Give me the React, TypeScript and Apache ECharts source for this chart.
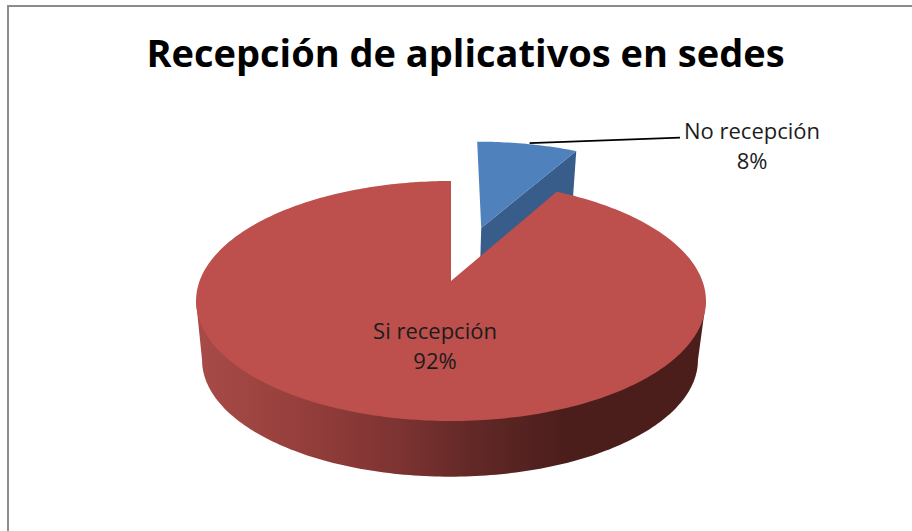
import React, { useEffect, useRef } from "react";
import * as echarts from "echarts";

const titleText = "Recepción de aplicativos en sedes";
const categories = ["No recepción", "Si recepción"];
const values = [8, 92];
const explode = [0.507, 0];
const explodeNudge = [0.004, 0];
const topColors = ["#4f81bd", "#bd4f4c"];
const cutColors = ["#385d8a", "#7a3230"];
const labelColor = "#1c1c1c";

// perspective camera of the pie: unit circle -> screen
const CAM = { a: 116.67, c: -1 / 6, k: 251.4, topX: 451, topY: 281, botX: 450, botY: 340.5, botS: 0.9725 };

function project(theta: number, ox: number, oy: number, r: number, bottom: boolean): number[] {
  const u = Math.sin(theta) * r + ox;
  const v = -Math.cos(theta) * r + oy;
  const d = 1 + CAM.c * v;
  const X = (CAM.k * u) / d;
  const Y = (CAM.a * v) / d;
  return bottom
    ? [CAM.botX + CAM.botS * X, CAM.botY + CAM.botS * Y]
    : [CAM.topX + X, CAM.topY + Y];
}

const total = values.reduce((s, v) => s + v, 0);

function renderItem(params: any, api: any) {
  const i = params.dataIndex;
  const value = api.value(0);
  const before = values.slice(0, i).reduce((s, v) => s + v, 0);
  const start = (before / total) * Math.PI * 2;
  const end = ((before + value) / total) * Math.PI * 2;
  const mid = (start + end) / 2;
  const ox = Math.sin(mid) * explode[i] + explodeNudge[i];
  const oy = -Math.cos(mid) * explode[i];
  const steps = Math.max(6, Math.round(((end - start) / Math.PI) * 180));
  const pts: number[][] = [project(0, ox, oy, 0, false)];
  for (let s = 0; s <= steps; s++) {
    pts.push(project(start + ((end - start) * s) / steps, ox, oy, 1, false));
  }
  const children: any[] = [];
  if (explode[i] > 0) {
    children.push({
      type: "polygon",
      shape: {
        points: [
          project(0, ox, oy, 0, false),
          project(end, ox, oy, 1, false),
          project(end, ox, oy, 1, true),
          project(0, ox, oy, 0, true),
        ],
      },
      style: { fill: cutColors[i] },
    });
  } else {
    const tangent = Math.acos(-1 / 6);
    const a0 = Math.PI * 2 - tangent;
    const rim: number[][] = [project(a0, ox, oy, 1, false)];
    for (let s = 0; s <= 160; s++) {
      rim.push(project(a0 + ((tangent - a0) * s) / 160, ox, oy, 1, true));
    }
    rim.push(project(tangent, ox, oy, 1, false));
    children.push({
      type: "polygon",
      shape: { points: rim },
      style: {
        fill: new echarts.graphic.LinearGradient(0, 0, 1, 0, [
          { offset: 0, color: "#a84b48" },
          { offset: 0.2, color: "#963f3c" },
          { offset: 0.4, color: "#7c3331" },
          { offset: 0.55, color: "#612826" },
          { offset: 0.72, color: "#4b1e1c" },
          { offset: 1, color: "#4b1e1c" },
        ]),
      },
    });
  }
  children.push({ type: "polygon", shape: { points: pts }, style: { fill: topColors[i] } });
  const text = `${categories[i]}\n${Math.round((value / total) * 100)}%`;
  const labelPos = explode[i] > 0 ? [752, 145] : [435, 345];
  children.push({
    type: "text",
    x: labelPos[0],
    y: labelPos[1],
    style: {
      text,
      fill: labelColor,
      font: "22px 'Open Sans'",
      lineHeight: 30,
      align: "center",
      verticalAlign: "middle",
    },
  });
  if (explode[i] > 0) {
    const lp = project(mid, ox, oy, 1, false);
    children.push({
      type: "line",
      shape: { x1: lp[0] + 2, y1: lp[1] - 1, x2: 680, y2: 137.7 },
      style: { stroke: "#000000", lineWidth: 1.8 },
    });
  }
  return { type: "group", children };
}

export default function App() {
  const ref = useRef<HTMLDivElement>(null);
  useEffect(() => {
    document.body.style.margin = "0";
    const chart = echarts.init(ref.current!, undefined, { renderer: "svg" });
    chart.setOption({
      animation: false,
      backgroundColor: "#ffffff",
      title: {
        text: titleText,
        left: 460.5,
        top: 28,
        textAlign: "center",
        textStyle: { fontFamily: "Open Sans", fontWeight: "bold", fontSize: 38, color: "#000000" },
      },
      graphic: [
        {
          type: "line",
          silent: true,
          shape: { x1: 7, y1: 6, x2: 912, y2: 6 },
          style: { stroke: "#8c8c8c", lineWidth: 2 },
        },
        {
          type: "line",
          silent: true,
          shape: { x1: 8, y1: 5, x2: 8, y2: 531 },
          style: { stroke: "#8c8c8c", lineWidth: 2 },
        },
      ],
      series: [
        {
          type: "custom",
          coordinateSystem: "none",
          renderItem,
          data: values.map((v, i) => ({ name: categories[i], value: [v] })),
        },
      ],
    });
    return () => chart.dispose();
  }, []);
  return <div ref={ref} style={{ position: "absolute", left: 0, top: 0, width: 912, height: 531 }} />;
}
